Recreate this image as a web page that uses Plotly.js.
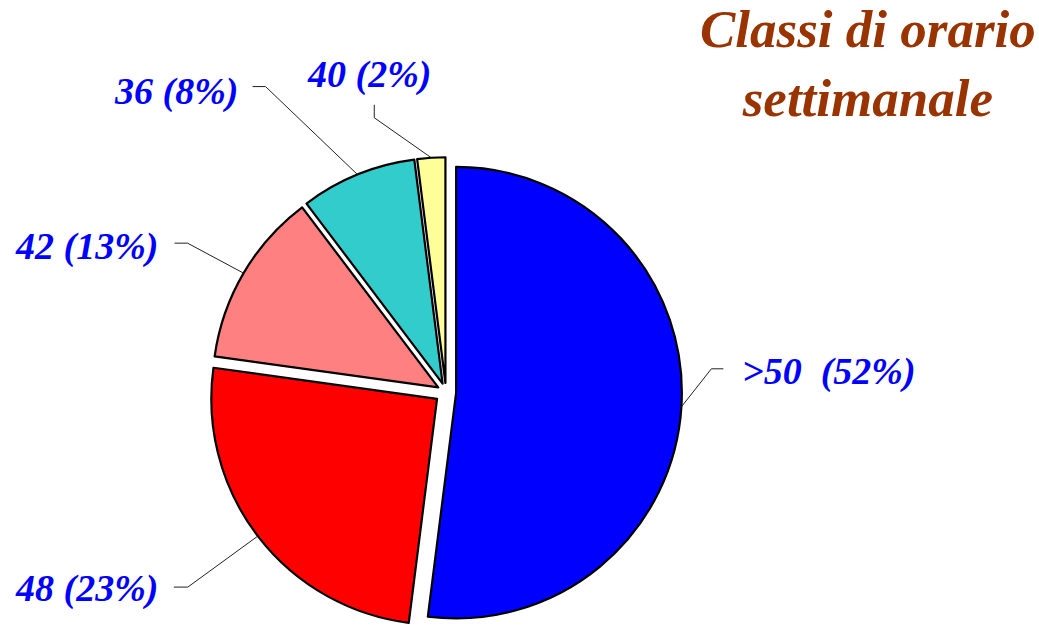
<!DOCTYPE html>
<html><head><meta charset="utf-8">
<script src="https://cdn.plot.ly/plotly-3.0.1.min.js"></script>
<style>html,body{margin:0;padding:0;background:#fff;overflow:hidden}</style>
</head><body><div id="chart" style="width:1039px;height:629px"></div>
<script>
// ---- data ----
const categories = ['>50', '48', '42', '36', '40'];
const shares = [52, 25.2, 12.5, 8.3, 2];          // slice sizes measured from angles
const printedPercents = [52, 23, 13, 8, 2];        // percentages as printed on labels
const titleLines = ['Classi di orario', 'settimanale'];

// ---- style ----
const sliceColors = ['#0000ff', '#ff0000', '#ff8080', '#33cccc', '#ffff99'];
const pulls = [0.045, 0.05, 0.04, 0.04, 0.04];
const W = 1039, H = 629;
const CX = 446, CY = 392, HALF = 237;
// leader geometry relative to the slice anchor: diagonal (dx,dy), then short segment (hx,hy);
// label offset (tx,ty) from leader end
const leaders = [
  {dx: 30, dy: -38, hx: 12, hy: 0, tx: 17, ty: 3, xa: 'left'},
  {dx: -70, dy: 51, hx: -14, hy: 0, tx: -14, ty: 1, xa: 'right'},
  {dx: -56, dy: -30, hx: -13, hy: 0, tx: -15, ty: 3, xa: 'right'},
  {dx: -92, dy: -88, hx: -13, hy: 0, tx: -13, ty: 5, xa: 'right'},
  {dx: -57, dy: -40, hx: 0, hy: -13, tx: -5, ty: -30, xa: 'center'}
];
const serif = 'Liberation Serif, Times New Roman, serif';
const labelFont = {family: serif, size: 38, color: '#0000ff', weight: 'bold', style: 'italic'};
const titleFont = {family: serif, size: 53, color: '#993300', weight: 'bold', style: 'italic'};

const labelTexts = categories.map((c, i) => c + (i === 0 ? '\u00a0 ' : ' ') + '(' + printedPercents[i] + '%)');

const trace = {
  type: 'pie',
  labels: categories,
  values: shares,
  sort: false,
  direction: 'clockwise',
  rotation: 0,
  pull: pulls,
  textinfo: 'none',
  hoverinfo: 'label+percent',
  marker: {colors: sliceColors, line: {color: '#000', width: 2.2}},
  domain: {x: [(CX - HALF) / W, (CX + HALF) / W], y: [(H - CY - HALF) / H, (H - CY + HALF) / H]},
  showlegend: false
};

const layout = {
  width: W, height: H,
  margin: {l: 0, r: 0, t: 0, b: 0},
  paper_bgcolor: '#fff',
  showlegend: false,
  annotations: []
};

const titleAnn = {
  xref: 'paper', yref: 'paper', x: 868 / W, y: 1 + 2 / H, xanchor: 'center', yanchor: 'top',
  showarrow: false, text: titleLines.join('<br>'), font: titleFont
};

const gd = document.getElementById('chart');
Plotly.newPlot(gd, [trace], layout, {displayModeBar: false}).then(() => {
  let cx = CX, cy = CY, r = HALF / (1 + Math.max(...pulls));
  const cd0 = gd.calcdata && gd.calcdata[0] && gd.calcdata[0][0];
  if (cd0 && cd0.r) { cx = cd0.cx; cy = cd0.cy; r = cd0.r; }
  const total = shares.reduce((a, b) => a + b, 0);
  const px = x => x / W, py = y => 1 - y / H;
  const shapes = [], annotations = [titleAnn];
  let cum = 0;
  shares.forEach((v, i) => {
    const mid = (cum + v / 2) / total * 2 * Math.PI;
    cum += v;
    const ux = Math.sin(mid), uy = -Math.cos(mid);
    const ax = cx + ux * r * (1 + pulls[i]), ay = cy + uy * r * (1 + pulls[i]);
    const L = leaders[i];
    const ex = ax + L.dx, ey = ay + L.dy;
    const fx = ex + L.hx, fy = ey + L.hy;
    const line = {color: '#222', width: 1};
    shapes.push({type: 'line', xref: 'paper', yref: 'paper', x0: px(ax), y0: py(ay), x1: px(ex), y1: py(ey), line});
    shapes.push({type: 'line', xref: 'paper', yref: 'paper', x0: px(ex), y0: py(ey), x1: px(fx), y1: py(fy), line});
    annotations.push({
      xref: 'paper', yref: 'paper', x: px(fx + L.tx), y: py(fy + L.ty),
      xanchor: L.xa, yanchor: 'middle', showarrow: false,
      text: labelTexts[i], font: labelFont
    });
  });
  return Plotly.relayout(gd, {shapes, annotations});
});
</script>
</body></html>
